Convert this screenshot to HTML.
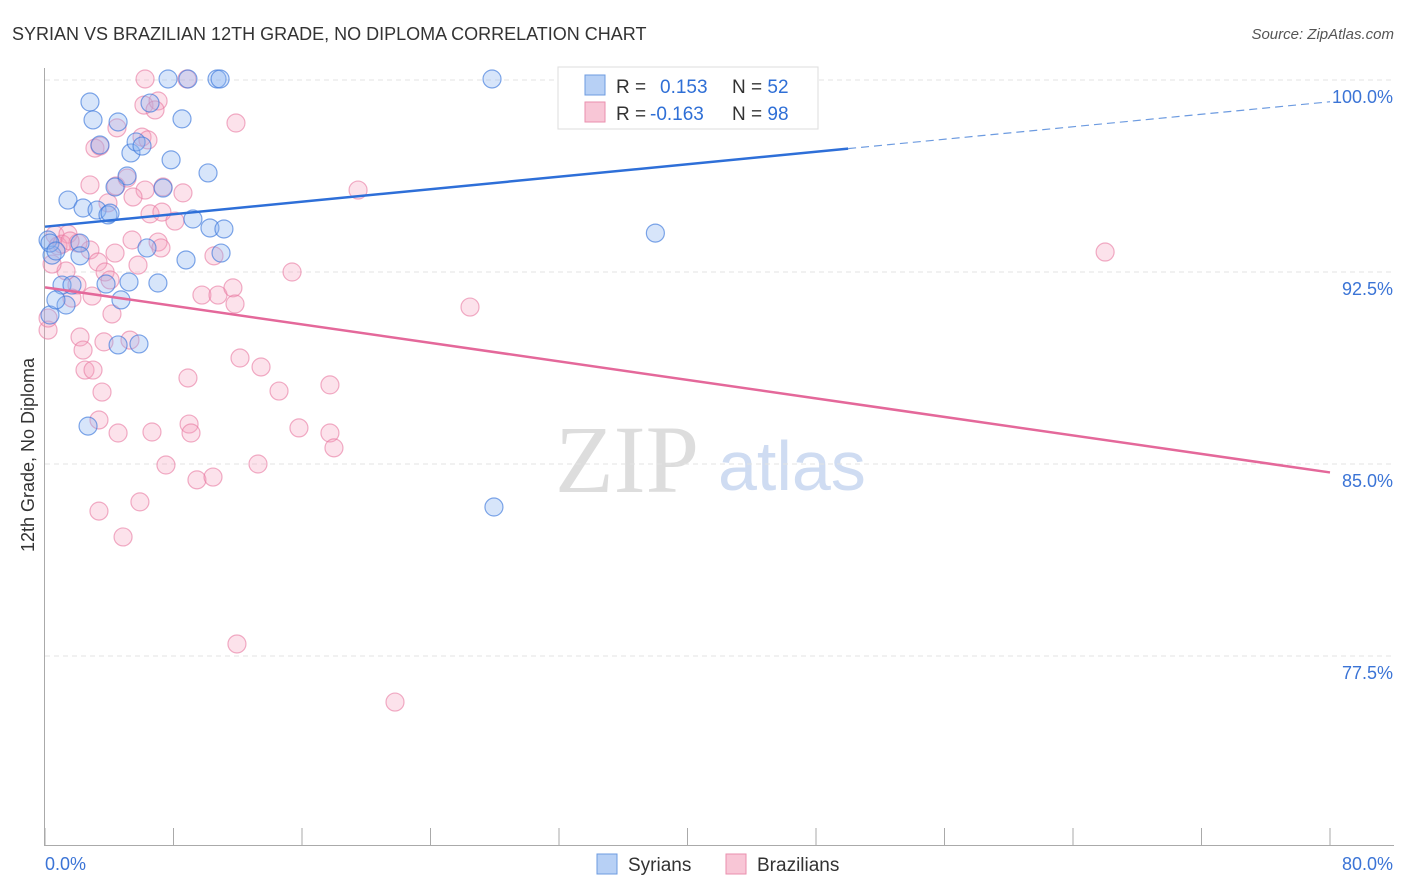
<!DOCTYPE html>
<html><head><meta charset="utf-8"><style>
body{margin:0;background:#fff;font-family:"Liberation Sans",sans-serif;}
svg{display:block}
</style></head><body>
<svg id="chart" width="1406" height="892">
<text x="12" y="40" font-size="18" fill="#333">SYRIAN VS BRAZILIAN 12TH GRADE, NO DIPLOMA CORRELATION CHART</text>
<text x="1394" y="39" font-size="15" fill="#555" font-style="italic" text-anchor="end">Source: ZipAtlas.com</text>
<text x="555" y="492" font-size="96" fill="#ddd" font-family="Liberation Serif, serif">ZIP</text>
<text x="718" y="490" font-size="70" fill="#cfdcf2">atlas</text>
<text transform="translate(34,455) rotate(-90)" font-size="18" fill="#333" text-anchor="middle">12th Grade, No Diploma</text>
<g id="grid"></g><g id="pts"></g><g id="lines"></g>
<g>
<rect x="558" y="67" width="260" height="62" fill="#fff" stroke="#ddd"/>
<rect x="585" y="75" width="20" height="20" fill="#b7d0f5" stroke="#6d9be0"/>
<rect x="585" y="102" width="20" height="20" fill="#f8c6d6" stroke="#ea8fae"/>
<text x="616" y="93" font-size="19" fill="#333">R = <tspan fill="#2f6fd6" x="660">0.153</tspan><tspan x="732" fill="#333">N = </tspan><tspan fill="#2f6fd6">52</tspan></text>
<text x="616" y="120" font-size="19" fill="#333">R = <tspan fill="#2f6fd6" x="650">-0.163</tspan><tspan x="732" fill="#333">N = </tspan><tspan fill="#2f6fd6">98</tspan></text>
</g>
<g>
<rect x="597" y="854" width="20" height="20" fill="#b7d0f5" stroke="#6d9be0"/>
<text x="628" y="871" font-size="19" fill="#333">Syrians</text>
<rect x="726" y="854" width="20" height="20" fill="#f8c6d6" stroke="#ea8fae"/>
<text x="757" y="871" font-size="19" fill="#333">Brazilians</text>
</g>
<text x="45" y="870" font-size="18" fill="#3b74d6">0.0%</text>
<text x="1393" y="870" font-size="18" fill="#3b74d6" text-anchor="end">80.0%</text>
</svg>
<script>
const yTicks=[100,92.5,85,77.5];
const yTickLabels=["100.0%","92.5%","85.0%","77.5%"];
const syrX=[1.43,2.37,2.8,2.99,3.42,3.24,3.92,4.05,4.55,5.11,4.36,5.35,5.67,6.04,6.54,7.35,7.85,7.66,8.9,8.53,10.15,9.21,10.27,11.14,10.96,8.78,6.35,7.03,5.23,3.8,4.73,1.31,1.06,0.44,0.19,0.31,0.68,2.18,2.18,2.68,4.55,5.85,10.71,10.9,27.83,47.0,38.0,27.95,0.31,1.68,0.68];
const syrY=[95.31,95.0,99.14,98.44,97.46,94.92,94.73,94.8,98.36,96.25,95.82,97.15,97.58,97.42,99.1,95.78,96.88,100.04,100.04,98.48,96.37,94.57,94.22,94.18,93.24,92.97,93.44,92.07,92.11,92.03,91.41,91.21,91.99,93.16,93.75,93.63,93.32,93.63,93.13,86.48,89.65,89.69,100.04,100.04,100.04,100.04,94.02,83.32,90.82,91.99,91.41];
const braX=[6.23,8.84,6.16,7.04,6.85,4.48,6.04,6.41,3.11,3.42,11.89,2.8,4.42,5.11,6.23,5.48,7.35,8.59,19.49,3.92,6.54,7.28,8.09,0.62,1.43,2.8,2.05,5.42,7.04,7.22,4.36,10.52,5.79,3.3,3.74,1.31,1.99,2.93,1.68,4.05,4.17,9.77,10.77,11.7,11.83,15.38,26.46,66.0,2.18,2.37,3.67,5.29,12.14,13.45,8.9,14.57,17.74,2.49,2.99,3.55,3.36,4.55,6.66,8.97,9.09,15.81,17.74,17.99,7.53,9.46,10.46,13.26,5.91,3.36,4.86,11.95,21.79,0.19,0.19,0.44,0.81,1.06,1.56];
const braY=[100.04,100.04,99.02,99.18,98.83,98.13,97.77,97.66,97.34,97.42,98.32,95.9,95.86,96.17,95.7,95.43,95.82,95.59,95.7,95.2,94.77,94.84,94.49,93.95,93.98,93.36,93.63,93.75,93.67,93.44,93.24,93.13,92.77,92.89,92.5,92.54,91.99,91.56,91.48,92.19,90.86,91.6,91.6,91.88,91.25,92.5,91.13,93.28,89.96,89.45,89.77,89.84,89.14,88.79,88.36,87.85,88.09,88.67,88.67,87.81,86.72,86.21,86.25,86.56,86.21,86.41,86.21,85.63,84.96,84.38,84.49,85.0,83.52,83.16,82.15,77.97,75.70,90.23,90.7,92.81,93.52,93.59,93.71];
const syrTrend=[[0,94.27],[50,97.32]];
const braTrend=[[0,91.9],[80,84.67]];
const X=v=>45+v*1285/80, Y=v=>80+(100-v)*25.6;
const NS="http://www.w3.org/2000/svg";
function mk(t,a,p){const e=document.createElementNS(NS,t);for(const k in a)e.setAttribute(k,a[k]);p.appendChild(e);return e;}
const grid=document.getElementById('grid');
yTicks.forEach((v,i)=>{
 const l=mk('line',{x1:45,x2:1394,y1:Y(v),y2:Y(v),stroke:'#e3e3e3','stroke-dasharray':'5,4'},grid);
 
 
 const t=mk('text',{x:1393,y:Y(v)+23,'font-size':18,fill:'#3b74d6','text-anchor':'end'},grid);
 t.textContent=yTickLabels[i];
 
 
});
const ax=mk('line',{x1:44.5,x2:44.5,y1:68,y2:846,stroke:'#aaa'},grid);


const bx=mk('line',{x1:44,x2:1394,y1:845.5,y2:845.5,stroke:'#aaa'},grid);


for(let i=0;i<=10;i++){const t=mk('line',{x1:X(i*8),x2:X(i*8),y1:828,y2:846,stroke:'#aaa'},grid);
 
 }
const pts=document.getElementById('pts');
braX.forEach((x,i)=>{const c=mk('circle',{cx:X(x),cy:Y(braY[i]),r:9,fill:'rgba(244,160,188,0.3)',stroke:'rgba(232,120,160,0.6)','stroke-width':1.2},pts);
 
 });
syrX.forEach((x,i)=>{const c=mk('circle',{cx:X(x),cy:Y(syrY[i]),r:9,fill:'rgba(140,180,240,0.35)',stroke:'rgba(60,120,220,0.65)','stroke-width':1.2},pts);
 
 });
const lines=document.getElementById('lines');
const s1=mk('line',{x1:X(syrTrend[0][0]),y1:Y(syrTrend[0][1]),x2:X(syrTrend[1][0]),y2:Y(syrTrend[1][1]),stroke:'#2e6fd8','stroke-width':2.5},lines);


const slope=(syrTrend[1][1]-syrTrend[0][1])/(syrTrend[1][0]-syrTrend[0][0]);
const s2=mk('line',{x1:X(syrTrend[1][0]),y1:Y(syrTrend[1][1]),x2:X(80),y2:Y(syrTrend[0][1]+slope*80),stroke:'#6d9be0','stroke-width':1.2,'stroke-dasharray':'8,5'},lines);


const b1=mk('line',{x1:X(braTrend[0][0]),y1:Y(braTrend[0][1]),x2:X(braTrend[1][0]),y2:Y(braTrend[1][1]),stroke:'#e4689a','stroke-width':2.5},lines);


</script>
</body></html>
